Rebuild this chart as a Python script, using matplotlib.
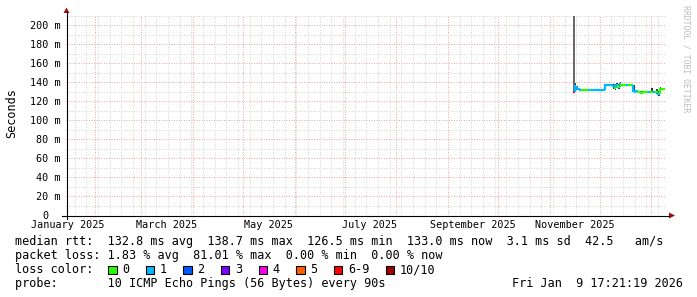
import matplotlib
matplotlib.use("Agg")
import matplotlib.pyplot as plt
import matplotlib.dates as mdates
import matplotlib.transforms as mtransforms
from matplotlib.patches import Polygon, Rectangle
from matplotlib.lines import Line2D
from matplotlib.ticker import MultipleLocator
from datetime import datetime, timedelta

W, H, DPI = 697, 297, 100
MONO = 'DejaVu Sans Mono'

# ---------------- data ----------------
range_start = datetime(2025, 1, 14, 17, 21, 19)
range_end = datetime(2026, 1, 9, 17, 21, 19)
first_day = datetime(2025, 11, 15)

median_ms = [130, 136, 134, 132.5, 132, 131.5, 131.5, 131.5, 131.5, 131.5,
             131.5, 131.5, 131.5, 131.5, 131.5, 131.5, 131.5, 131.5, 131.5, 136.5,
             136.5, 136.5, 136.5, 136.5, 135.5, 134, 137, 135, 137.5, 136.5,
             136.5, 136.5, 136.5, 136.5, 136.5, 136.5, 130.5, 130, 130.5, 130,
             129, 128.5, 129, 129, 129, 129.5, 129, 129.5, 129.5, 129,
             129, 127, 132.5, 132.5, 133]
loss_class = [6, 1, 1, 1, 1, 0, 0, 0, 0, 1,
              0, 1, 1, 1, 1, 1, 1, 1, 1, 1,
              1, 1, 1, 1, 1, 0, 1, 0, 1, 0,
              0, 0, 1, 0, 0, 0, 1, 1, 1, 0,
              0, 0, 0, 0, 0, 1, 0, 0, 1, 0,
              0, 1, 0, 0, 0]

smoke_index = [0, 1, 2, 19, 24, 25, 26, 27, 28, 36, 41, 47, 50, 51, 52]
smoke_lo = [129.5, 133, 132, 131.5, 133, 132, 134, 133, 135, 130, 127, 128, 127, 125, 131]
smoke_hi = [210, 138.5, 136, 137, 137.5, 138, 139, 138, 140, 136.5, 131, 134, 133, 131, 134.5]
smoke_grey = ['#6a6a6a', '#333333', '#444444', '#333333', '#3a3a3a', '#333333', '#3a3a3a',
              '#333333', '#444444', '#333333', '#444444', '#333333', '#444444', '#333333', '#444444']

loss_labels = ["0", "1", "2", "3", "4", "5", "6-9", "10/10"]
loss_colors = ['#26ff00', '#00b8ff', '#0059ff', '#7e00ff', '#ff00ea', '#ff5e00', '#ff0000', '#a10000']

month_labels = ["January 2025", "March 2025", "May 2025", "July 2025",
                "September 2025", "November 2025"]
label_months = [(2025, 1), (2025, 3), (2025, 5), (2025, 7), (2025, 9), (2025, 11)]
y_major = list(range(0, 201, 20))

legend_line1 = "median rtt:  132.8 ms avg  138.7 ms max  126.5 ms min  133.0 ms now  3.1 ms sd  42.5   am/s"
legend_line2 = "packet loss: 1.83 % avg  81.01 % max  0.00 % min  0.00 % now"
legend_line3 = "loss color:"
legend_line4 = "probe:       10 ICMP Echo Pings (56 Bytes) every 90s"
timestamp = "Fri Jan  9 17:21:19 2026"
watermark = "RRDTOOL / TOBI OETIKER"
ylabel = "Seconds"

# ---------------- figure ----------------
fig = plt.figure(figsize=(W / DPI, H / DPI), dpi=DPI)
fig.patch.set_facecolor('white')
pix = mtransforms.Affine2D().scale(1 / W, -1 / H).translate(0, 1) + fig.transFigure

L, R, T, B = 66, 666, 15, 215
ax = fig.add_axes([L / W, 1 - B / H, (R - L) / W, (B - T) / H])
ax.set_facecolor('white')
ax.set_xlim(range_start, range_end)
ax.set_ylim(0, 200 / 0.95)
for s in ax.spines.values():
    s.set_visible(False)
ax.tick_params(which='both', length=0, labelbottom=False, labelleft=False)
ax.xaxis.set_major_locator(mdates.MonthLocator(bymonthday=1))
ax.xaxis.set_minor_locator(mdates.WeekdayLocator(byweekday=mdates.MO))
ax.yaxis.set_major_locator(MultipleLocator(20))
ax.yaxis.set_minor_locator(MultipleLocator(10))
ax.set_axisbelow(True)
ax.grid(which='minor', color='#d6d6d6', lw=0.72, ls=(0, (1, 1.5)))
ax.grid(which='major', color='#f0a8a8', lw=0.72, ls=(0, (1, 1.5)))

# smoke
days = [first_day + timedelta(days=i) for i in range(len(median_ms) + 1)]
for k, i in enumerate(smoke_index):
    ax.bar(days[i], smoke_hi[k] - smoke_lo[k], bottom=smoke_lo[k], width=1.0,
           align='edge', color=smoke_grey[k], lw=0, zorder=2)

# median coloured by loss
for i, v in enumerate(median_ms):
    c = loss_colors[loss_class[i]]
    prev = median_ms[i - 1] if i > 0 else v
    ax.plot([days[i], days[i], days[i + 1]], [prev, v, v], color=c, lw=1.6,
            solid_capstyle='butt', solid_joinstyle='miter', zorder=3)

# axis labels
axis_fs = 7.3
char_w_axis = axis_fs / 72 * DPI * 0.602
for v in y_major:
    lab = f"{v} m" if v else "0"
    off = -5.5 if v else -5.5 - 2 * char_w_axis
    ax.annotate(lab, xy=(0, v), xycoords=('axes fraction', 'data'),
                xytext=(off, -3.7), textcoords='offset pixels', ha='right',
                va='baseline', fontsize=axis_fs, family=MONO, annotation_clip=False)
for (yy, mm), lab in zip(label_months, month_labels):
    d = datetime(yy, mm, 1) + timedelta(days=15)
    ax.annotate(lab, xy=(mdates.date2num(d), 0), xycoords=('data', 'axes fraction'),
                xytext=(0, -12.7), textcoords='offset pixels', ha='center',
                va='baseline', fontsize=axis_fs, family=MONO, annotation_clip=False)

# axes lines + arrows
fig.add_artist(Line2D([62, 669], [215.5, 215.5], color='black', lw=0.8, transform=pix))
fig.add_artist(Line2D([66.5, 66.5], [219, 12], color='black', lw=0.8, transform=pix))
fig.add_artist(Polygon([[669, 212.5], [675, 215.5], [669, 218.5]], closed=True,
                       facecolor='#9a1010', edgecolor='none', transform=pix))
fig.add_artist(Polygon([[63.5, 13], [66.5, 7.5], [69.5, 13]], closed=True,
                       facecolor='#9a1010', edgecolor='none', transform=pix))

# y label and watermark
fig.text(11.5 / W, 1 - 113 / H, ylabel, rotation=90, ha='center', va='center',
         fontsize=8.5, family=MONO)
fig.text(686 / W, 1 - 5 / H, watermark, rotation=270, ha='center', va='top',
         fontsize=5.9, color='#bdbdbd', family=MONO)

# legend
leg_fs = 8.5
cw = 7.14
x0 = 15.2
fig.text(x0 / W, 1 - 245.3 / H, legend_line1, fontsize=leg_fs, family=MONO, va='baseline')
fig.text(x0 / W, 1 - 259.3 / H, legend_line2, fontsize=leg_fs, family=MONO, va='baseline')
fig.text(x0 / W, 1 - 273.3 / H, legend_line3, fontsize=leg_fs, family=MONO, va='baseline')
fig.text(x0 / W, 1 - 287.3 / H, legend_line4, fontsize=leg_fs, family=MONO, va='baseline')
fig.text(512 / W, 1 - 287.3 / H, timestamp, fontsize=leg_fs, family=MONO, va='baseline')

bx = 108.0
for lab, col in zip(loss_labels, loss_colors):
    fig.add_artist(Rectangle((bx, 265.5), 8.5, 8.5, facecolor=col, edgecolor='black',
                             lw=0.8, transform=pix))
    fig.text((bx + 14.2) / W, 1 - 273.3 / H, lab, fontsize=leg_fs, family=MONO, va='baseline')
    bx += 15 + len(lab) * cw + 15.5

fig.savefig('out.png', dpi=DPI)
